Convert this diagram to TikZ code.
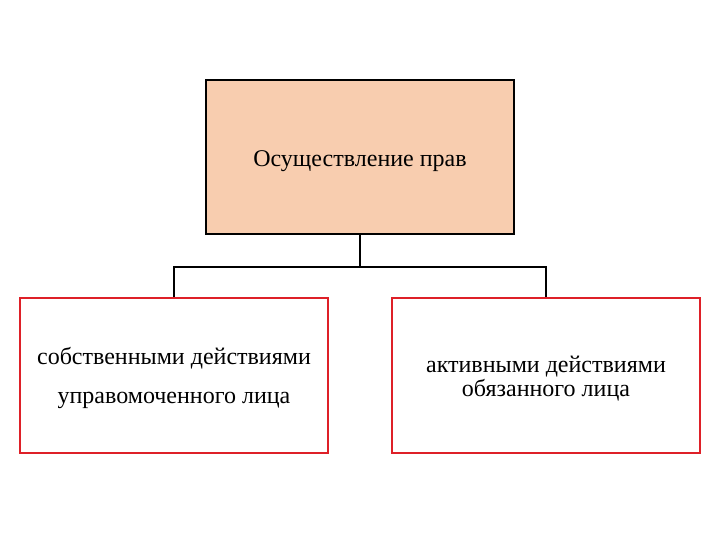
\documentclass[tikz,border=0pt]{standalone}
\usepackage{fontspec}
\setmainfont{Liberation Serif}
\definecolor{peach}{RGB}{248,205,175}
\definecolor{boxred}{RGB}{222,32,40}
\newcommand{\shiftdown}[2]{\raisebox{-#1}[\height][\depth]{#2}}
\tikzset{
	topbox/.style={draw=black,fill=peach,line width=1.6pt,minimum width=308pt,minimum height=154pt,inner sep=0pt},
	lowbox/.style={draw=boxred,line width=1.6pt,minimum width=308pt,minimum height=155pt,inner sep=0pt,align=center},
	link/.style={line width=1.6pt}
}
\begin{document}
\begin{tikzpicture}[x=1pt,y=-1pt,font=\fontsize{24}{25}\selectfont]
	\useasboundingbox (0,0) rectangle (720,540);
	%BOXES
	\node[topbox] (rights) at (360,157) {\shiftdown{4pt}{Осуществление прав}};
	\node[lowbox] (own) at (174,375.5) {\shiftdown{3pt}{\begin{tabular}{c}собственными действиями\\[14pt]управомоченного лица\end{tabular}}};
	\node[lowbox] (other) at (546,375.5) {\shiftdown{4pt}{\begin{tabular}{c}активными действиями\\[-1pt]обязанного лица\end{tabular}}};
	
	%CONNECTORS
	\coordinate (split) at (360,267);
	\draw[link] (rights.south) -- (split);
	\draw[link] (own.north) -- (own.north |- split) -- (other.north |- split) -- (other.north);
\end{tikzpicture}
\end{document}
